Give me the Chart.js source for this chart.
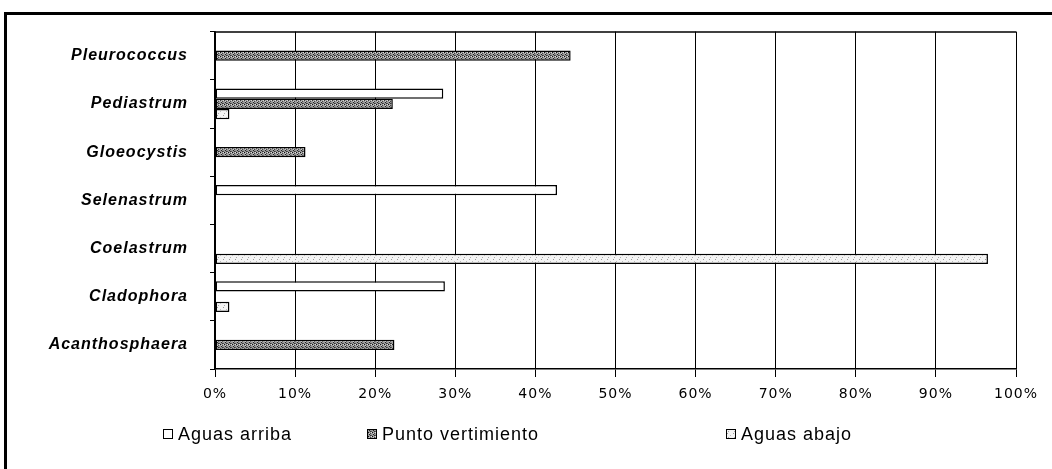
<!DOCTYPE html>
<html>
<head>
<meta charset="utf-8">
<script src="https://cdn.jsdelivr.net/npm/chart.js@4/dist/chart.umd.min.js"></script>
<style>
  html, body { margin: 0; padding: 0; background: #fff; }
  #wrap { width: 1052px; height: 469px; position: relative; }
</style>
</head>
<body>
<div id="wrap"><canvas id="c" width="1052" height="469"></canvas></div>
<script>
// Genera por categoría y porcentaje en cada punto de muestreo
const categories = ['Pleurococcus', 'Pediastrum', 'Gloeocystis', 'Selenastrum', 'Coelastrum', 'Cladophora', 'Acanthosphaera'];
const seriesNames = ['Aguas arriba', 'Punto vertimiento', 'Aguas abajo'];
const aguasArriba = [null, 28.5, null, 42.7, null, 28.7, null];
const puntoVertimiento = [44.4, 22.2, 11.3, null, null, null, 22.4];
const aguasAbajo = [null, 1.8, null, null, 96.5, 1.8, null];
const tickLabels = ['0%', '10%', '20%', '30%', '40%', '50%', '60%', '70%', '80%', '90%', '100%'];

// Small stipple tiles used as bar fills
function makeTile(size, bg, dots) {
  const t = document.createElement('canvas');
  t.width = size; t.height = size;
  const g = t.getContext('2d');
  g.fillStyle = bg; g.fillRect(0, 0, size, size);
  dots.forEach(function (d) { g.fillStyle = d[2]; g.fillRect(d[0], d[1], 1, 1); });
  return g.createPattern(t, 'repeat');
}
const fillArriba = '#ffffff';
const fillPunto = makeTile(4, '#9a9a9a', [[0, 0, '#111'], [2, 1, '#444'], [1, 2, '#222'], [3, 3, '#555'], [3, 0, '#dddddd'], [1, 1, '#cccccc'], [2, 3, '#333']]);
const fillAbajo = makeTile(6, '#f4f4f4', [[1, 1, '#999'], [4, 3, '#bbb'], [2, 5, '#aaa']]);
const fills = [fillArriba, fillPunto, fillAbajo];

const framePlugin = {
  id: 'frame',
  beforeDraw(chart) {
    const ctx = chart.ctx;
    ctx.letterSpacing = '1px';
    ctx.save();
    ctx.fillStyle = '#fff';
    ctx.fillRect(0, 0, chart.width, chart.height);
    ctx.strokeStyle = '#000';
    ctx.lineWidth = 3;
    ctx.beginPath();
    ctx.moveTo(5.5, chart.height);
    ctx.lineTo(5.5, 13.5);
    ctx.lineTo(chart.width, 13.5);
    ctx.stroke();
    ctx.restore();
  },
  afterDraw(chart) {
    const ctx = chart.ctx;
    const a = chart.chartArea;
    ctx.save();
    ctx.strokeStyle = '#000';
    ctx.lineWidth = 1.5;
    ctx.beginPath();
    ctx.moveTo(a.left, a.top + 0.5);
    ctx.lineTo(a.right, a.top + 0.5);
    ctx.stroke();

    // legend row
    const xs = [163, 367, 726];
    const y = 434;
    ctx.font = '18px "Liberation Sans", Arial, sans-serif';
    ctx.letterSpacing = '1px';
    ctx.textBaseline = 'middle';
    chart.data.datasets.forEach(function (ds, i) {
      ctx.fillStyle = ds.backgroundColor;
      ctx.fillRect(xs[i], y - 5, 10, 10);
      ctx.lineWidth = 1;
      ctx.strokeStyle = '#000';
      ctx.strokeRect(xs[i] + 0.5, y - 4.5, 9, 9);
      ctx.fillStyle = '#000';
      ctx.fillText(ds.label, xs[i] + 15, y + 1);
    });
    ctx.restore();
  }
};

const datasets = [aguasArriba, puntoVertimiento, aguasAbajo].map(function (vals, i) {
  return {
    label: seriesNames[i],
    data: vals,
    backgroundColor: fills[i],
    borderColor: '#000',
    borderWidth: 1.5,
    borderSkipped: false,
    categoryPercentage: 0.64,
    barPercentage: 1.0
  };
});

new Chart(document.getElementById('c'), {
  type: 'bar',
  data: { labels: categories, datasets: datasets },
  options: {
    indexAxis: 'y',
    responsive: false,
    animation: false,
    devicePixelRatio: 1,
    layout: { padding: { left: 0, right: 36, top: 30, bottom: 70 } },
    plugins: { legend: { display: false }, tooltip: { enabled: false } },
    scales: {
      x: {
        min: 0, max: 100,
        ticks: {
          stepSize: 10,
          color: '#000',
          font: { family: '"DejaVu Sans", Verdana, sans-serif', size: 14 },
          padding: 9,
          maxRotation: 0,
          callback: function (v, idx) { return tickLabels[idx]; }
        },
        grid: { color: '#000', lineWidth: 1, tickLength: 8, tickColor: '#000' },
        border: { color: '#000', width: 1.5 },
        afterFit: function (s) { s.height = 30; }
      },
      y: {
        ticks: {
          color: '#000',
          font: { family: '"Liberation Sans", Arial, sans-serif', size: 16, style: 'italic', weight: 'bold' },
          padding: 22
        },
        grid: { drawOnChartArea: false, tickLength: 5, tickColor: '#000', offset: true },
        border: { color: '#000', width: 1.5 },
        afterFit: function (s) { s.width = 215; }
      }
    }
  },
  plugins: [framePlugin]
});
</script>
</body>
</html>
